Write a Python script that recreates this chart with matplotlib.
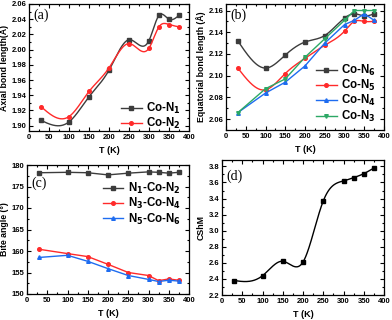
import numpy as np
import matplotlib.pyplot as plt
from matplotlib.ticker import AutoMinorLocator

# temperatures
T = [30, 100, 150, 200, 250, 300, 325, 350, 375]

# (a) axial bond lengths
co_n1 = [1.907, 1.905, 1.938, 1.973, 2.013, 2.012, 2.045, 2.040, 2.045]
co_n2 = [1.925, 1.912, 1.945, 1.976, 2.008, 2.002, 2.030, 2.033, 2.030]

# (b) equatorial bond lengths
co_n6 = [2.132, 2.107, 2.119, 2.131, 2.137, 2.153, 2.157, 2.155, 2.157]
co_n5 = [2.107, 2.087, 2.102, 2.116, 2.128, 2.141, 2.150, 2.150, 2.150]
co_n4 = [2.066, 2.084, 2.094, 2.109, 2.130, 2.147, 2.151, 2.157, 2.151]
co_n3 = [2.066, 2.088, 2.097, 2.117, 2.134, 2.151, 2.160, 2.160, 2.160]

# (c) bite angles
n1_n2 = [178.2, 178.3, 178.2, 177.7, 178.1, 178.4, 178.3, 178.1, 178.3]
n3_n4 = [160.4, 159.4, 158.7, 156.9, 155.0, 154.3, 153.1, 153.5, 153.2]
n5_n6 = [158.5, 159.0, 157.6, 155.9, 154.3, 153.4, 152.9, 153.2, 153.0]

# (d) continuous shape measure
cshm = [2.38, 2.44, 2.62, 2.61, 3.37, 3.62, 3.66, 3.71, 3.78]

BLACK = '#3c3c3c'
RED = '#ff2a2a'
BLUE = '#1e6cf0'
GREEN = '#2ca865'

plt.rcParams['font.family'] = ['Liberation Sans', 'DejaVu Sans']
plt.rcParams['font.weight'] = 'bold'
plt.rcParams['axes.labelweight'] = 'bold'


def smooth(x, y, n=300):
    # natural cubic spline through the points (line only, markers stay on data)
    x = np.asarray(x, float)
    y = np.asarray(y, float)
    h = np.diff(x)
    m = len(x)
    A = np.zeros((m, m))
    r = np.zeros(m)
    A[0, 0] = A[-1, -1] = 1
    for i in range(1, m - 1):
        A[i, i - 1] = h[i - 1]
        A[i, i] = 2 * (h[i - 1] + h[i])
        A[i, i + 1] = h[i]
        r[i] = 3 * ((y[i + 1] - y[i]) / h[i] - (y[i] - y[i - 1]) / h[i - 1])
    c = np.linalg.solve(A, r)
    b = (y[1:] - y[:-1]) / h - h * (2 * c[:-1] + c[1:]) / 3
    d = (c[1:] - c[:-1]) / (3 * h)
    xs = np.linspace(x[0], x[-1], n)
    idx = np.clip(np.searchsorted(x, xs) - 1, 0, m - 2)
    dx = xs - x[idx]
    return xs, y[idx] + b[idx] * dx + c[idx] * dx ** 2 + d[idx] * dx ** 3


def series(ax, y, color, marker, label, smooth_line=True, ms=2.6):
    if smooth_line:
        xs, ys = smooth(T, y)
    else:
        xs, ys = T, y
    ax.plot(xs, ys, color=color, lw=1)
    ax.plot(T, y, ls='none', marker=marker, color=color, ms=ms)
    # proxy for legend
    ax.plot([], [], color=color, lw=1, marker=marker, ms=ms, label=label)


def style(ax, yticks, ylim, ylabel, tag, tag_y=0.965):
    ax.set_xlim(0, 400)
    ax.set_xticks(range(0, 401, 50))
    ax.set_ylim(*ylim)
    ax.set_yticks(yticks)
    ax.xaxis.set_minor_locator(AutoMinorLocator(2))
    ax.yaxis.set_minor_locator(AutoMinorLocator(2))
    ax.tick_params(which='both', direction='in', top=True, right=True,
                   labelsize=5.5, pad=2, width=0.8)
    ax.tick_params(which='major', length=3)
    ax.tick_params(which='minor', length=1.5)
    for s in ax.spines.values():
        s.set_linewidth(0.9)
    ax.set_xlabel('T (K)', fontsize=6.5, labelpad=4)
    ax.set_ylabel(ylabel, fontsize=6.3, labelpad=2)
    ax.text(0.03, tag_y, tag, transform=ax.transAxes, ha='left', va='top',
            fontsize=10, family='Liberation Serif', fontweight='normal')


def legend(ax, **kw):
    ax.legend(frameon=False, fontsize=8.3, handlelength=1.8,
              borderaxespad=0.3, handletextpad=0.4, labelspacing=0.02, **kw)


fig = plt.figure(figsize=(3.92, 3.2), dpi=100)
W, H = 392, 320


def add_axes(l, t, r, b):
    return fig.add_axes([l / W, 1 - b / H, (r - l) / W, (b - t) / H])


ax_a = add_axes(29, 4, 189, 131)
ax_b = add_axes(226, 4, 384, 130)
ax_c = add_axes(27, 165, 189, 294)
ax_d = add_axes(222, 160, 384, 295)

# (a)
series(ax_a, co_n1, BLACK, 's', 'Co-N$_1$')
series(ax_a, co_n2, RED, 'o', 'Co-N$_2$')
style(ax_a, np.arange(1.90, 2.061, 0.02), (1.893, 2.06),
      'Axial bond length(Å)', '(a)')
ax_a.yaxis.set_major_formatter(plt.FormatStrFormatter('%.2f'))
legend(ax_a, loc='lower right', bbox_to_anchor=(1.0, -0.065))

# (b)
series(ax_b, co_n6, BLACK, 's', 'Co-N$_6$')
series(ax_b, co_n5, RED, 'o', 'Co-N$_5$')
series(ax_b, co_n4, BLUE, '^', 'Co-N$_4$', smooth_line=False)
series(ax_b, co_n3, GREEN, 'v', 'Co-N$_3$', smooth_line=False)
style(ax_b, np.arange(2.06, 2.161, 0.02), (2.05, 2.166),
      'Equatorial bond length (Å)', '(b)')
ax_b.yaxis.set_major_formatter(plt.FormatStrFormatter('%.2f'))
legend(ax_b, loc='lower right', bbox_to_anchor=(1.0, -0.015))

# (c)
series(ax_c, n1_n2, BLACK, 's', 'N$_1$-Co-N$_2$', smooth_line=False)
series(ax_c, n3_n4, RED, 'o', 'N$_3$-Co-N$_4$', smooth_line=False)
series(ax_c, n5_n6, BLUE, '^', 'N$_5$-Co-N$_6$', smooth_line=False)
style(ax_c, range(150, 181, 5), (150, 180), 'Bite angle (°)', '(c)',
      tag_y=0.91)
legend(ax_c, loc='upper right', bbox_to_anchor=(1.0, 0.94))

# (d)
xs, ys = smooth(T, cshm)
ax_d.plot(xs, ys, color='black', lw=1)
ax_d.plot(T, cshm, ls='none', marker='s', color='black', ms=2.6)
style(ax_d, np.arange(2.2, 3.81, 0.2), (2.2, 3.88), 'CShM', '(d)',
      tag_y=0.93)
ax_d.yaxis.set_major_formatter(plt.FormatStrFormatter('%.1f'))

fig.savefig('out.png', dpi=100)
